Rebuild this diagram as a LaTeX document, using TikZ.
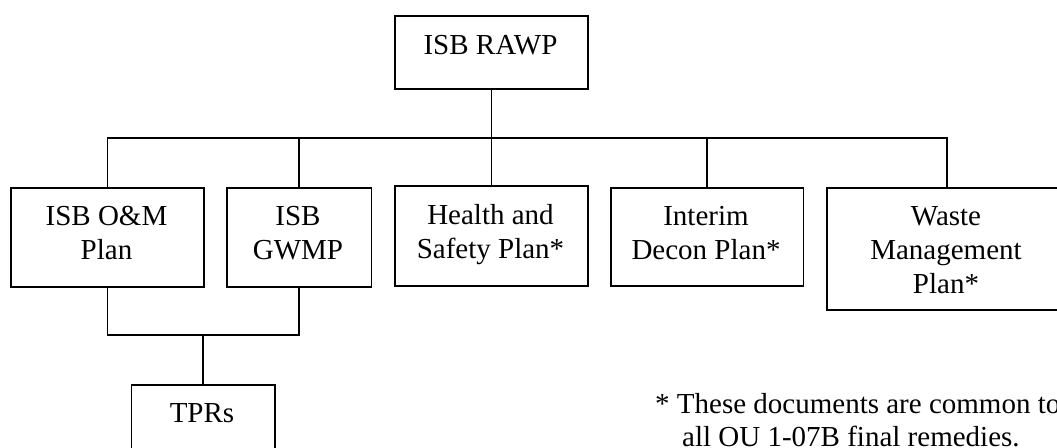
\documentclass[tikz,border=0pt]{standalone}
\usepackage{fontspec}
\setmainfont{Liberation Serif}
\begin{document}
\begin{tikzpicture}[x=1pt,y=-1pt,
  box/.style={draw, line width=1.8pt, rectangle, inner sep=0pt, anchor=north west},
  txt/.style={inner sep=0pt, anchor=base, font=\fontsize{29}{34}\selectfont},
  note/.style={inner sep=0pt, anchor=base west, font=\fontsize{29}{34}\selectfont},
  wire/.style={line width=1.8pt}]
\useasboundingbox (0,0) rectangle (1057,447);
\clip (0,0) rectangle (1057,447);

% boxes
\node[box, minimum width=193pt, minimum height=73pt] (rawp) at (394,15) {};
\node[box, minimum width=193pt, minimum height=99pt] (om) at (10,187) {};
\node[box, minimum width=144.5pt, minimum height=99pt] (gwmp) at (226,187) {};
\node[box, minimum width=193pt, minimum height=100pt] (hs) at (394,185) {};
\node[box, minimum width=192.5pt, minimum height=98pt] (interim) at (610,187) {};
\node[box, minimum width=240pt, minimum height=122pt] (waste) at (826,187) {};
\node[box, minimum width=143.5pt, minimum height=100pt] (tprs) at (130.5,384) {};

% texts
\node[txt] (rawpT) at (490.5,54) {ISB RAWP};
\node[txt] (omT1) at (106.5,225) {ISB O\&M};
\node[txt] (omT2) at (106.5,259) {Plan};
\node[txt] (gwmpT1) at (298,225) {ISB};
\node[txt] (gwmpT2) at (298,259) {GWMP};
\node[txt] (hsT1) at (490.5,224) {Health and};
\node[txt] (hsT2) at (490.5,258) {Safety Plan*};
\node[txt] (intT1) at (706,225) {Interim};
\node[txt] (intT2) at (706,259) {Decon Plan*};
\node[txt] (wasteT1) at (946,225) {Waste};
\node[txt] (wasteT2) at (946,259) {Management};
\node[txt] (wasteT3) at (946,293) {Plan*};
\node[txt] (tprsT) at (202,422) {TPRs};
\node[note] (note1) at (655,413) {* These documents are common to};
\node[note] (note2) at (682,446) {all OU 1-07B final remedies.};

% connectors
\coordinate (bus) at (0,138);
\coordinate (join) at (0,335);
\draw[wire] (rawp.south) -- (rawp.south |- bus);
\draw[wire] (om.north) |- (waste.north |- bus) -- (waste.north);
\draw[wire] (gwmp.north) -- (gwmp.north |- bus);
\draw[wire] (hs.north) -- (hs.north |- bus);
\draw[wire] (interim.north) -- (interim.north |- bus);
\draw[wire] (om.south) |- (gwmp.south |- join) -- (gwmp.south);
\draw[wire] (tprs.north) -- (tprs.north |- join);
\end{tikzpicture}
\end{document}
